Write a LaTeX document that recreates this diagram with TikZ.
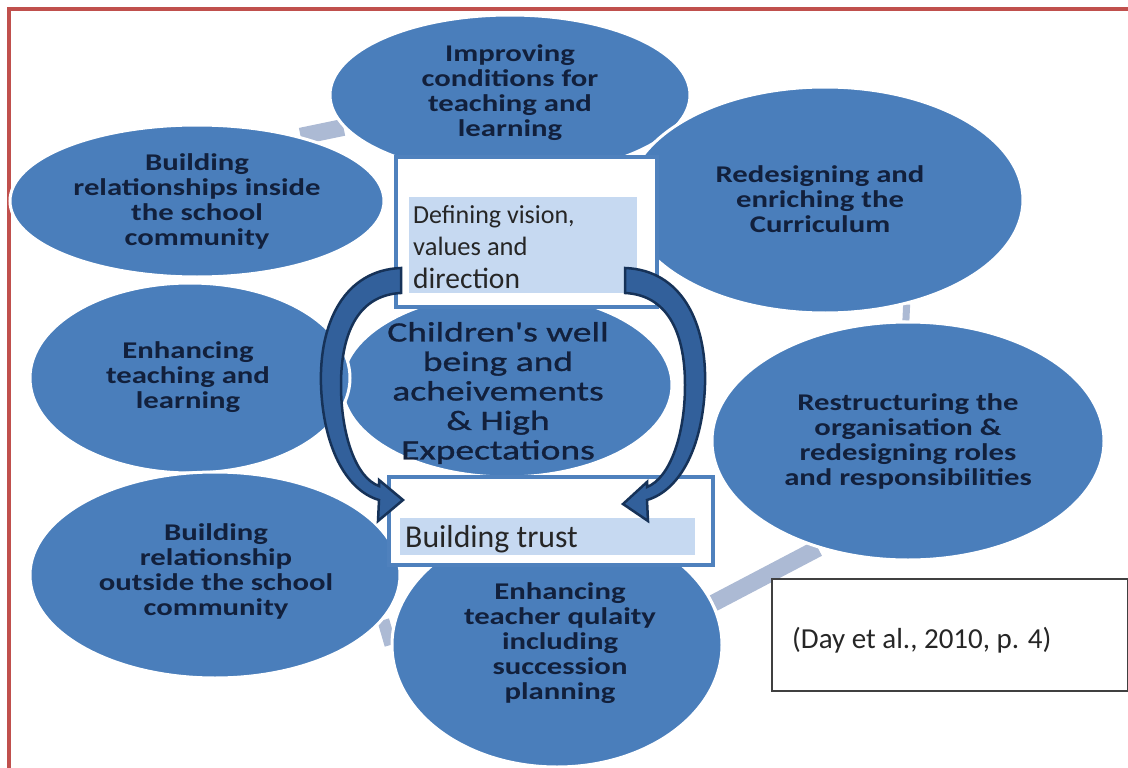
\documentclass[tikz,border=0pt]{standalone}
\usepackage{fontspec}
\setmainfont{Carlito}
\newfontfamily\ellfont[FakeStretch=1.28]{Carlito}
\newfontfamily\midfont[FakeStretch=1.34,FakeBold=1]{Carlito}
\usetikzlibrary{shapes.geometric,backgrounds}
\definecolor{ellblue}{RGB}{74,126,187}
\definecolor{ink}{RGB}{18,32,60}
\definecolor{boxblue}{RGB}{79,129,189}
\definecolor{paleblue}{RGB}{198,217,241}
\definecolor{arrfill}{RGB}{50,96,155}
\definecolor{arrline}{RGB}{22,50,88}
\definecolor{linkc}{RGB}{172,186,212}
\definecolor{framered}{RGB}{192,80,77}
\begin{document}
\begin{tikzpicture}[x=1pt,y=-1pt,
  ell/.style={ellipse, fill=ellblue, draw=white, line width=3pt, inner sep=0pt},
  etext/.style={align=center, text=ink, inner sep=0pt,
    font=\ellfont\bfseries\fontsize{24}{25}\selectfont},
  ctext/.style={align=center, text=ink, inner sep=0pt,
    font=\midfont\fontsize{28}{29.5}\selectfont},
  outerbox/.style={draw=boxblue, line width=4pt, fill=white, inner sep=0pt, anchor=north west},
  fillbox/.style={fill=paleblue, inner sep=0pt, anchor=north west},
  btext/.style={anchor=base west, inner sep=0pt, text=black!85},
  link/.style={draw=linkc},
  bigarrow/.style={fill=arrfill, draw=arrline, line width=2.5pt, line join=miter}
]
\useasboundingbox (0,0) rectangle (1128,768);

% frame
\draw[framered, line width=4pt] (9,768) -- (9,9.5) -- (1128,9.5);

% ellipses
\node[ell, minimum width=330, minimum height=184] (e5) at (507,385) {};
\node[ell, minimum width=360, minimum height=160] (e1) at (510,95) {};
\node[ell, minimum width=396, minimum height=226] (e3) at (825,200) {};
\node[ell, minimum width=374, minimum height=152] (e2) at (197,201) {};
\node[ell, minimum width=320, minimum height=190] (e4) at (190,378) {};
\node[ell, minimum width=392, minimum height=238] (e6) at (908,441) {};
\node[ell, minimum width=370, minimum height=206] (e7) at (215,575) {};
\node[ell, minimum width=330, minimum height=244] (e8) at (557,645) {};

% connectors
\begin{scope}[on background layer]
\draw[link, line width=17pt] (e2.32) -- (e1.191);
\draw[link, line width=7pt] (e3.-52) -- (e6.91);
\draw[link, line width=17pt] (e6.230) -- (e8.15);
\draw[link, line width=12pt] (e7.-15) -- (e8.180);
\end{scope}

% ellipse texts
\node[etext] (t1) at (510,93) {Improving\\conditions for\\teaching and\\learning};
\node[etext] (t2) at (197,201) {Building\\relationships inside\\the school\\community};
\node[etext] (t3) at (820,199) {Redesigning and\\enriching the\\Curriculum};
\node[etext] (t4) at (188,377) {Enhancing\\teaching and\\learning};
\node[ctext] (t5) at (498,393) {Children's well\\being and\\acheivements\\\& High\\Expectations};
\node[etext] (t6) at (908,441) {Restructuring the\\organisation \&\\redesigning roles\\and responsibilities};
\node[etext] (t7) at (216,571) {Building\\relationship\\outside the school\\community};
\node[etext] (t8) at (560,643) {Enhancing\\teacher qulaity\\including\\succession\\planning};

% defining box
\node[outerbox, minimum width=261, minimum height=150] (dbox) at (394,155) {};
\node[fillbox, minimum width=228, minimum height=96] (dfill) at (409,197) {};
\node[btext, font=\fontsize{26}{30}\selectfont] (d1) at (413,223) {Defining vision,};
\node[btext, font=\fontsize{26.5}{30}\selectfont] (d2) at (413,255) {values and};
\node[btext, font=\fontsize{29.5}{33}\selectfont] (d3) at (413,288) {direction};

% trust box
\node[outerbox, minimum width=324, minimum height=88] (tbox) at (387,475) {};
\node[fillbox, minimum width=295, minimum height=37] (tfill) at (400,518) {};
\node[btext, font=\fontsize{31.8}{36}\selectfont] (tr) at (405,547) {Building trust};

% citation box
\node[draw=black!75, line width=1.5pt, fill=white, inner sep=0pt, anchor=north west,
      minimum width=356, minimum height=112] (cite) at (771,578) {};
\node[btext, font=\fontsize{29}{34}\selectfont] (ct) at (792,648) {(Day et al., 2010, p. 4)};

% curved arrows
\filldraw[bigarrow]
 (401,268) .. controls (345,270) and (319,322) .. (321,385)
 .. controls (323,445) and (345,490) .. (379,500)
 -- (378,521) -- (403,500) -- (379,480) -- (379,486)
 .. controls (356,478) and (341,435) .. (341,385)
 .. controls (341,330) and (360,295) .. (401,293) -- cycle;
\filldraw[bigarrow]
 (625,268) .. controls (681,270) and (707,322) .. (705,385)
 .. controls (703,445) and (681,490) .. (647,500)
 -- (648,521) -- (623,504) -- (647,482) -- (647,487)
 .. controls (670,478) and (685,435) .. (685,385)
 .. controls (685,330) and (666,295) .. (625,293) -- cycle;
\end{tikzpicture}
\end{document}
